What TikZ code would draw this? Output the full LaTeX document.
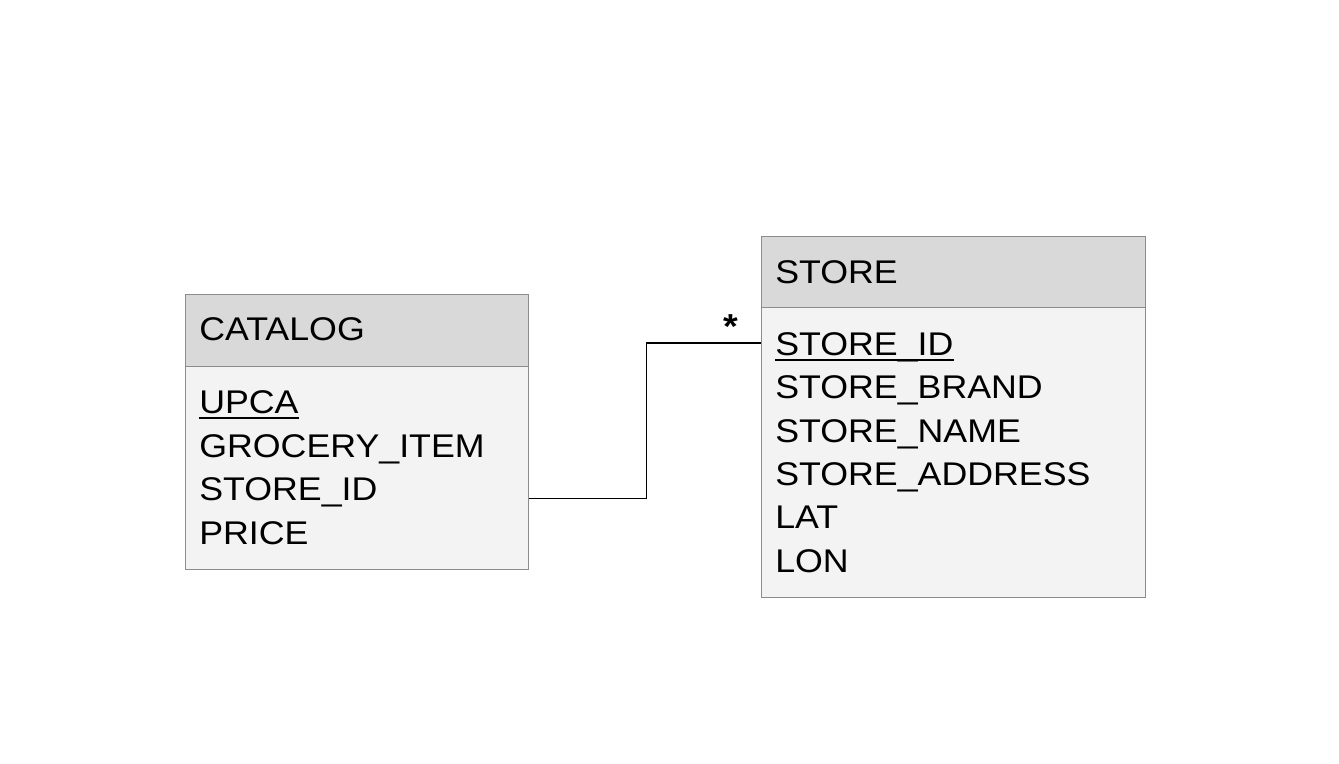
\documentclass[tikz,border=0pt]{standalone}
\usepackage{fontspec}
\setmainfont[FakeStretch=1.09]{Liberation Sans}
\usetikzlibrary{calc}
\definecolor{hdrgray}{HTML}{D9D9D9}
\definecolor{bodygray}{HTML}{F3F3F3}
\definecolor{edgegray}{HTML}{8C8C8C}

\begin{document}
\begin{tikzpicture}[x=0.75pt,y=-0.75pt,
  head/.style={draw=edgegray,fill=hdrgray,line width=0.9pt,anchor=north west,inner sep=0pt},
  body/.style={draw=edgegray,fill=bodygray,line width=0.9pt,anchor=north west,inner sep=0pt},
  attr/.style={anchor=base west,inner sep=0pt,font=\fontsize{24.6}{30}\selectfont}]
  \useasboundingbox (0,0) rectangle (1339,764);
  % catalog table
  \path (185,294) node[head,minimum width=257.25pt,minimum height=54pt] (cath) {}
  (185,366) node[body,minimum width=257.25pt,minimum height=152.25pt] (catb) {};
  \path (199,340) node[attr] (catn) {CATALOG}
  (199,413) node[attr] (cat1) {UPCA} (199,457) node[attr] (cat2) {GROCERY\_ITEM}
  (199,500.5) node[attr] (cat3) {STORE\_ID} (199,544) node[attr] (cat4) {PRICE};
  % store table
  \path (761,236) node[head,minimum width=288pt,minimum height=53.25pt] (stoh) {}
  (761,307) node[body,minimum width=288pt,minimum height=217.5pt] (stob) {};
  \path (775,283) node[attr] (ston) {STORE}
  (775,355) node[attr] (sto1) {STORE\_ID} (775,398.5) node[attr] (sto2) {STORE\_BRAND}
  (775,442) node[attr] (sto3) {STORE\_NAME} (775,485) node[attr] (sto4) {STORE\_ADDRESS}
  (775,528.5) node[attr] (sto5) {LAT} (775,572) node[attr] (sto6) {LON};
  % keys
  \draw[line width=1.3pt] ([yshift=-3.5pt]cat1.base west) -- ([yshift=-3.5pt]cat1.base east);
  \draw[line width=1.3pt] ([yshift=-3.5pt]sto1.base west) -- ([yshift=-3.5pt]sto1.base east);
  % link
  \draw[line width=0.9pt] ([yshift=1.5pt]cat3.base -| catb.east) -- ++(117,0) |- ([yshift=9pt]sto1.base -| stob.west);
  \node[attr,anchor=center,font=\fontsize{26}{30}\bfseries] (mult) at (731,327) {*};
\end{tikzpicture}
\end{document}
